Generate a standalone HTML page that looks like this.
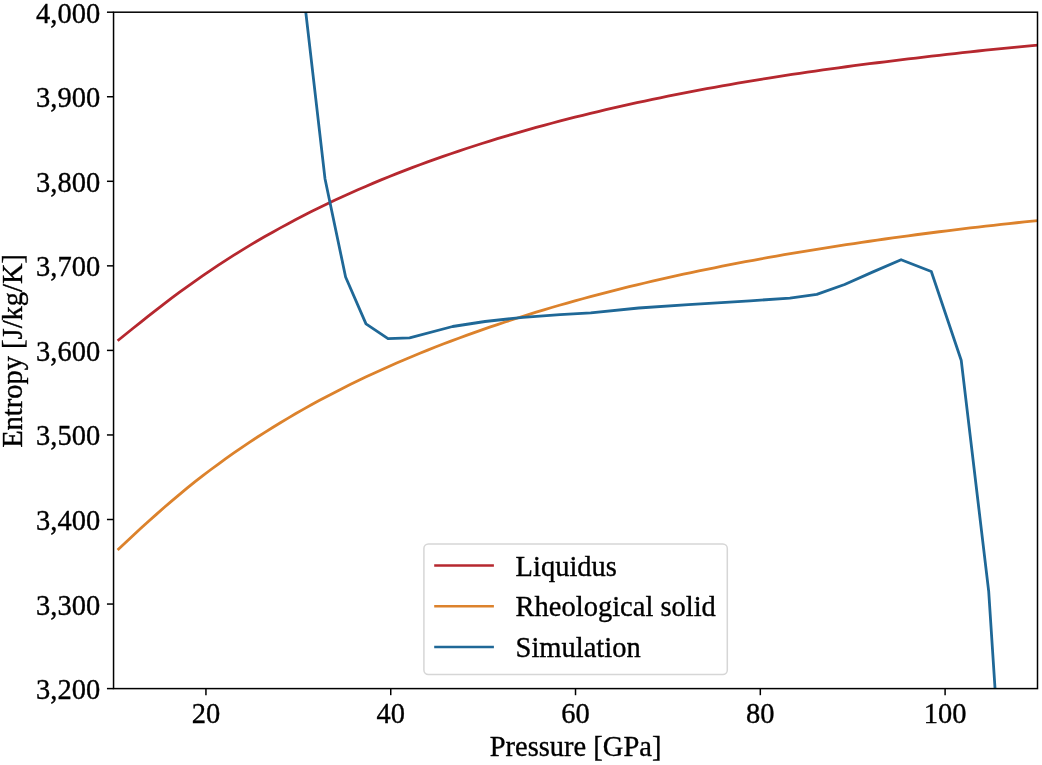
<!DOCTYPE html>
<html><head><meta charset="utf-8"><style>
html,body{margin:0;padding:0;background:#fff;}
svg{display:block;}
text{font-family:"Liberation Serif","Times New Roman",serif;font-size:28.5px;fill:#000;stroke:#000;stroke-width:0.35px;}
</style></head><body>
<svg width="1042" height="765" viewBox="0 0 1042 765">
<defs><clipPath id="ax"><rect x="113.55" y="12.2" width="923.95" height="676.4"/></clipPath></defs>
<rect width="1042" height="765" fill="#fff"/>
<g clip-path="url(#ax)" fill="none" stroke-width="2.8" stroke-linejoin="round" stroke-linecap="butt">
<path d="M117.60,340.75 L125.35,334.51 L133.10,328.26 L140.85,322.04 L148.61,315.88 L156.36,309.81 L164.11,303.83 L171.86,297.95 L179.61,292.19 L187.36,286.55 L195.11,281.03 L202.86,275.62 L210.62,270.34 L218.37,265.17 L226.12,260.12 L233.87,255.19 L241.62,250.37 L249.37,245.65 L257.12,241.05 L264.87,236.55 L272.63,232.16 L280.38,227.86 L288.13,223.66 L295.88,219.55 L303.63,215.54 L311.38,211.61 L319.13,207.78 L326.88,204.02 L334.64,200.35 L342.39,196.76 L350.14,193.24 L357.89,189.80 L365.64,186.44 L373.39,183.14 L381.14,179.91 L388.89,176.76 L396.65,173.66 L404.40,170.63 L412.15,167.66 L419.90,164.76 L427.65,161.91 L435.40,159.12 L443.15,156.38 L450.90,153.70 L458.66,151.07 L466.41,148.50 L474.16,145.97 L481.91,143.49 L489.66,141.07 L497.41,138.68 L505.16,136.35 L512.91,134.06 L520.67,131.81 L528.42,129.60 L536.17,127.44 L543.92,125.32 L551.67,123.24 L559.42,121.19 L567.17,119.19 L574.92,117.22 L582.68,115.28 L590.43,113.39 L598.18,111.53 L605.93,109.70 L613.68,107.90 L621.43,106.14 L629.18,104.41 L636.93,102.71 L644.69,101.05 L652.44,99.41 L660.19,97.80 L667.94,96.22 L675.69,94.67 L683.44,93.15 L691.19,91.65 L698.94,90.18 L706.70,88.74 L714.45,87.32 L722.20,85.93 L729.95,84.56 L737.70,83.22 L745.45,81.90 L753.20,80.61 L760.95,79.34 L768.71,78.09 L776.46,76.86 L784.21,75.65 L791.96,74.47 L799.71,73.31 L807.46,72.16 L815.21,71.04 L822.96,69.94 L830.72,68.86 L838.47,67.79 L846.22,66.75 L853.97,65.72 L861.72,64.72 L869.47,63.73 L877.22,62.76 L884.97,61.80 L892.73,60.87 L900.48,59.94 L908.23,58.98 L915.98,58.03 L923.73,57.10 L931.48,56.18 L939.23,55.28 L946.98,54.39 L954.74,53.52 L962.49,52.67 L970.24,51.83 L977.99,51.00 L985.74,50.19 L993.49,49.39 L1001.24,48.61 L1008.99,47.84 L1016.75,47.08 L1024.50,46.34 L1032.25,45.61 L1040.00,44.89" stroke="#b6282f"/>
<path d="M117.60,549.98 L125.35,542.72 L133.10,535.49 L140.85,528.33 L148.61,521.28 L156.36,514.34 L164.11,507.53 L171.86,500.86 L179.61,494.33 L187.36,487.94 L195.11,481.70 L202.86,475.63 L210.62,469.75 L218.37,464.01 L226.12,458.40 L233.87,452.93 L241.62,447.59 L249.37,442.38 L257.12,437.28 L264.87,432.31 L272.63,427.45 L280.38,422.71 L288.13,418.08 L295.88,413.55 L303.63,409.13 L311.38,404.80 L319.13,400.57 L326.88,396.44 L334.64,392.40 L342.39,388.44 L350.14,384.57 L357.89,380.79 L365.64,377.09 L373.39,373.46 L381.14,369.91 L388.89,366.44 L396.65,363.04 L404.40,359.70 L412.15,356.44 L419.90,353.24 L427.65,350.11 L435.40,347.04 L443.15,344.03 L450.90,341.08 L458.66,338.19 L466.41,335.36 L474.16,332.58 L481.91,329.85 L489.66,327.18 L497.41,324.56 L505.16,321.99 L512.91,319.46 L520.67,316.99 L528.42,314.56 L536.17,312.17 L543.92,309.83 L551.67,307.53 L559.42,305.28 L567.17,303.06 L574.92,300.89 L582.68,298.76 L590.43,296.66 L598.18,294.60 L605.93,292.58 L613.68,290.60 L621.43,288.65 L629.18,286.73 L636.93,284.85 L644.69,283.01 L652.44,281.19 L660.19,279.41 L667.94,277.66 L675.69,275.93 L683.44,274.24 L691.19,272.58 L698.94,270.95 L706.70,269.34 L714.45,267.76 L722.20,266.21 L729.95,264.69 L737.70,263.19 L745.45,261.72 L753.20,260.28 L760.95,258.85 L768.71,257.46 L776.46,256.08 L784.21,254.73 L791.96,253.41 L799.71,252.10 L807.46,250.82 L815.21,249.56 L822.96,248.32 L830.72,247.10 L838.47,245.91 L846.22,244.73 L853.97,243.56 L861.72,242.39 L869.47,241.25 L877.22,240.12 L884.97,239.01 L892.73,237.92 L900.48,236.85 L908.23,235.79 L915.98,234.76 L923.73,233.74 L931.48,232.74 L939.23,231.75 L946.98,230.78 L954.74,229.83 L962.49,228.89 L970.24,227.97 L977.99,227.07 L985.74,226.18 L993.49,225.30 L1001.24,224.44 L1008.99,223.60 L1016.75,222.76 L1024.50,221.95 L1032.25,221.15 L1040.00,220.36" stroke="#dc822c"/>
<path d="M298.60,-50.00 L325.00,178.70 L345.60,277.00 L366.00,323.90 L388.00,338.60 L409.60,337.80 L452.60,326.50 L485.00,321.50 L523.00,317.30 L560.00,314.70 L590.70,312.80 L638.70,308.00 L688.40,304.70 L750.00,300.80 L789.90,298.20 L816.80,294.40 L844.60,284.50 L873.00,271.90 L901.10,259.70 L931.30,271.50 L961.20,360.20 L988.70,591.30 L995.00,688.00 L1002.00,800.00" stroke="#1f6897"/>
</g>

<rect x="113.55" y="12.2" width="923.95" height="676.4" fill="none" stroke="#000" stroke-width="1.5" stroke-linecap="square"/>
<g stroke="#000" stroke-width="1.5">
<line x1="106.95" y1="688.60" x2="113.55" y2="688.60"/>
<line x1="106.95" y1="604.05" x2="113.55" y2="604.05"/>
<line x1="106.95" y1="519.50" x2="113.55" y2="519.50"/>
<line x1="106.95" y1="434.95" x2="113.55" y2="434.95"/>
<line x1="106.95" y1="350.40" x2="113.55" y2="350.40"/>
<line x1="106.95" y1="265.85" x2="113.55" y2="265.85"/>
<line x1="106.95" y1="181.30" x2="113.55" y2="181.30"/>
<line x1="106.95" y1="96.75" x2="113.55" y2="96.75"/>
<line x1="106.95" y1="12.20" x2="113.55" y2="12.20"/>
<line x1="205.94" y1="688.6" x2="205.94" y2="695.20"/>
<line x1="390.74" y1="688.6" x2="390.74" y2="695.20"/>
<line x1="575.52" y1="688.6" x2="575.52" y2="695.20"/>
<line x1="760.31" y1="688.6" x2="760.31" y2="695.20"/>
<line x1="945.10" y1="688.6" x2="945.10" y2="695.20"/>
</g>
<g>
<text transform="translate(100.2,699.10) scale(1,1.035)" text-anchor="end">3,200</text>
<text transform="translate(100.2,614.55) scale(1,1.035)" text-anchor="end">3,300</text>
<text transform="translate(100.2,530.00) scale(1,1.035)" text-anchor="end">3,400</text>
<text transform="translate(100.2,445.45) scale(1,1.035)" text-anchor="end">3,500</text>
<text transform="translate(100.2,360.90) scale(1,1.035)" text-anchor="end">3,600</text>
<text transform="translate(100.2,276.35) scale(1,1.035)" text-anchor="end">3,700</text>
<text transform="translate(100.2,191.80) scale(1,1.035)" text-anchor="end">3,800</text>
<text transform="translate(100.2,107.25) scale(1,1.035)" text-anchor="end">3,900</text>
<text transform="translate(100.2,22.70) scale(1,1.035)" text-anchor="end">4,000</text>
<text transform="translate(205.94,722.6) scale(1,1.035)" text-anchor="middle">20</text>
<text transform="translate(390.74,722.6) scale(1,1.035)" text-anchor="middle">40</text>
<text transform="translate(575.52,722.6) scale(1,1.035)" text-anchor="middle">60</text>
<text transform="translate(760.31,722.6) scale(1,1.035)" text-anchor="middle">80</text>
<text transform="translate(945.10,722.6) scale(1,1.035)" text-anchor="middle">100</text>
<text transform="translate(575.52,756.4) scale(1,1.035)" text-anchor="middle">Pressure [GPa]</text>
<text transform="translate(22.0,350.90) rotate(-90)" text-anchor="middle">Entropy [J/kg/K]</text>
</g>
<rect x="423.9" y="544.0" width="303.4" height="130.6" rx="4.5" ry="4.5" fill="#fff" stroke="#d6d6d6" stroke-width="1.5"/>
<line x1="434.2" y1="565.50" x2="493.9" y2="565.50" stroke="#b6282f" stroke-width="2.7"/>
<text transform="translate(515.6,575.70) scale(1,1.035)">Liquidus</text>
<line x1="434.2" y1="606.25" x2="493.9" y2="606.25" stroke="#dc822c" stroke-width="2.7"/>
<text transform="translate(515.6,616.30) scale(1,1.035)">Rheological solid</text>
<line x1="434.2" y1="647.00" x2="493.9" y2="647.00" stroke="#1f6897" stroke-width="2.7"/>
<text transform="translate(515.6,656.90) scale(1,1.035)">Simulation</text>
</svg>
</body></html>
